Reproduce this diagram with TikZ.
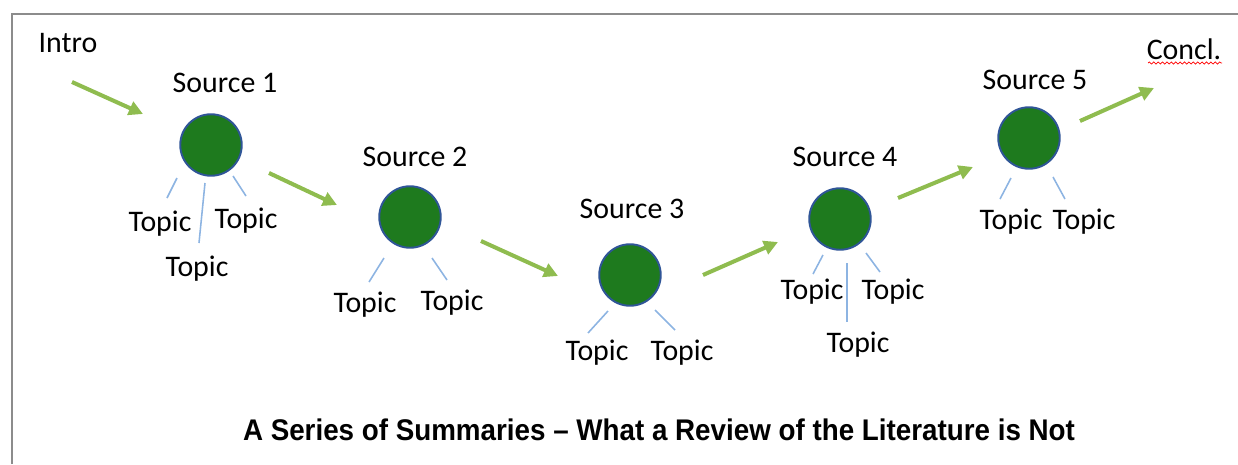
\documentclass[tikz,border=0pt]{standalone}
\usepackage{fontspec}
\setmainfont{Carlito}
\newfontfamily\titlefont{Liberation Sans}
\usetikzlibrary{positioning, arrows.meta, decorations.pathmorphing}
\definecolor{srcgreen}{RGB}{30,122,30}
\definecolor{srcblue}{RGB}{47,85,151}
\definecolor{arrgreen}{RGB}{143,188,79}
\definecolor{topicblue}{RGB}{141,180,226}
\tikzset{
	srccircle/.style={circle, fill=srcgreen, draw=srcblue, line width=1.1pt, minimum size=35pt, inner sep=0pt},
	flowarrow/.style={draw=arrgreen, line width=2.3pt, -{Triangle[length=8pt, width=8pt]}},
	topicline/.style={draw=topicblue, line width=0.9pt},
	lbl/.style={font=\fontsize{17}{20}\selectfont, inner sep=0pt}
}
\begin{document}
\begin{tikzpicture}[x=0.02cm, y=-0.02cm]
				  \useasboundingbox (0,0) rectangle (1238,464);
				  \draw[color=gray!90, line width=1.4pt] (12,464) -- (12,14) -- (1238,14);
				  \node[lbl] (intro) at (68,43) {Intro};
				  \node[lbl] (concl) at (1184,49) {Concl.};
				  \draw[red, line width=0.4pt, decorate, decoration={snake, amplitude=0.6pt, segment length=2.5pt}] (1148,63) -- (1222,63);
				  \node[srccircle] (src1) at (211,145) {};
				  \node[srccircle] (src2) at (410,217) {};
				  \node[srccircle] (src3) at (630,275) {};
				  \node[srccircle] (src4) at (840,219) {};
				  \node[srccircle] (src5) at (1029,138) {};
				  \node[lbl] (lab1) at (225,83) {Source 1};
				  \node[lbl] (lab2) at (415,157) {Source 2};
				  \node[lbl] (lab3) at (632,209) {Source 3};
				  \node[lbl] (lab4) at (845,157) {Source 4};
				  \node[lbl] (lab5) at (1035,80) {Source 5};
				  \node[lbl] (t1a) at (160,224) {Topic};
				  \node[lbl] (t1b) at (246,221) {Topic};
				  \node[lbl] (t1c) at (197,269) {Topic};
				  \node[lbl] (t2a) at (365,305) {Topic};
				  \node[lbl] (t2b) at (452,303) {Topic};
				  \node[lbl] (t3a) at (597,353) {Topic};
				  \node[lbl] (t3b) at (682,353) {Topic};
				  \node[lbl] (t4a) at (812,292) {Topic};
				  \node[lbl] (t4b) at (893,292) {Topic};
				  \node[lbl] (t4c) at (858,345) {Topic};
				  \node[lbl] (t5a) at (1011,222) {Topic};
				  \node[lbl] (t5b) at (1084,222) {Topic};
				  \coordinate (a0s) at (72,82);
				  \coordinate (a0e) at (143,114);
				  \coordinate (a1s) at (269,173);
				  \coordinate (a1e) at (337,205);
				  \coordinate (a2s) at (481,241);
				  \coordinate (a2e) at (558,276);
				  \coordinate (a3s) at (703,275);
				  \coordinate (a3e) at (778,242);
				  \coordinate (a4s) at (898,198);
				  \coordinate (a4e) at (973,167);
				  \coordinate (a5s) at (1080,121);
				  \coordinate (a5e) at (1154,88);
				  \draw[flowarrow] (a0s) -- (a0e);
				  \draw[flowarrow] (a1s) -- (a1e);
				  \draw[flowarrow] (a2s) -- (a2e);
				  \draw[flowarrow] (a3s) -- (a3e);
				  \draw[flowarrow] (a4s) -- (a4e);
				  \draw[flowarrow] (a5s) -- (a5e);
				  \draw[topicline] (177,178) -- (167,198);
				  \draw[topicline] (205,183) -- (199,243);
				  \draw[topicline] (233,176) -- (246,196);
				  \draw[topicline] (384,258) -- (369,282);
				  \draw[topicline] (432,258) -- (447,280);
				  \draw[topicline] (608,311) -- (588,333);
				  \draw[topicline] (655,310) -- (675,330);
				  \draw[topicline] (823,255) -- (813,274);
				  \draw[topicline] (847,263) -- (847,322);
				  \draw[topicline] (866,253) -- (880,272);
				  \draw[topicline] (1011,178) -- (1000,199);
				  \draw[topicline] (1053,177) -- (1065,199);
				  \node[font=\titlefont\bfseries\fontsize{17}{20}\selectfont, xscale=0.93, transform shape, inner sep=0pt] (title) at (659,430) {A Series of Summaries – What a Review of the Literature is Not};
				\end{tikzpicture}
\end{document}
